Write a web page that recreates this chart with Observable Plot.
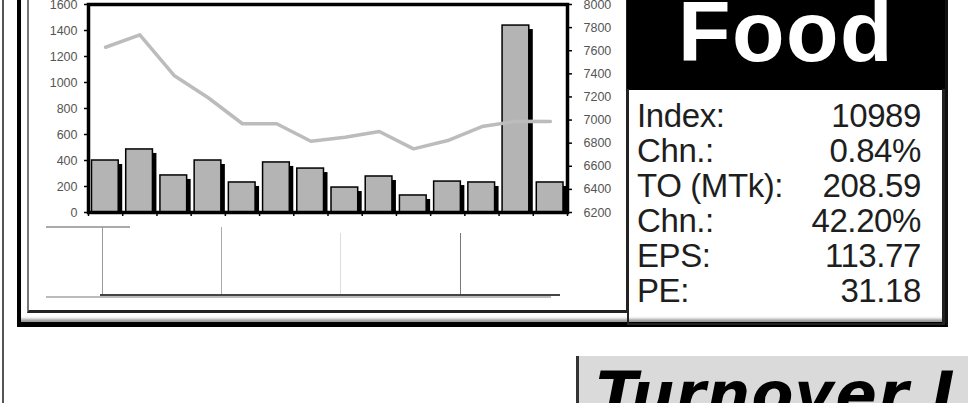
<!DOCTYPE html>
<html>
<head>
<meta charset="utf-8">
<script src="https://cdn.jsdelivr.net/npm/d3@7"></script>
<script src="https://cdn.jsdelivr.net/npm/@observablehq/plot@0.6"></script>
<style>
  html, body { margin:0; padding:0; background:#fff; }
  body { width:968px; height:403px; overflow:hidden; position:relative; font-family:"Liberation Sans", Arial, sans-serif; }
  .abs { position:absolute; box-sizing:border-box; }
  #chart { position:absolute; left:0; top:0; }
  #chart svg { overflow:visible; }
  .row { position:absolute; left:637px; width:284px; font-size:33px; color:#1e1e1e; line-height:35px; height:35px; letter-spacing:-0.4px; }
  .row .lab { position:absolute; left:0; }
  .row .val { position:absolute; right:0; }
</style>
</head>
<body>
<!-- page column rule -->
<div class="abs" style="left:2px; top:0; width:2px; height:403px; background:#555;"></div>
<!-- outer frame -->
<div class="abs" style="left:17px; top:-10px; width:931px; height:337px; border-left:4px solid #000; border-right:4px solid #111; border-bottom:5px solid #000; box-shadow: inset 0 -5px 3px -2px #999;"></div>
<!-- inner chart box -->
<div class="abs" style="left:27px; top:-10px; width:601px; height:323px; border-left:2px solid #777; border-right:2px solid #222; border-bottom:3px solid #222;"></div>
<!-- Food title box -->
<div class="abs" style="left:627px; top:-5px; width:318px; height:95px; background:#000;"></div>
<div class="abs" style="left:627px; top:-19px; width:318px; text-align:center; color:#fff; font-weight:bold; font-size:86px; line-height:100px; letter-spacing:1.5px;">Food</div>
<!-- stats box -->
<div class="abs" style="left:627px; top:89px; width:318px; height:236px; border-left:2px solid #222; border-right:3px solid #222; border-bottom:2px solid #222;"></div>
<div id="stats"></div>
<!-- broken date-label strip under the axis (scan residue) -->
<div class="abs" style="left:46px; top:226px; width:84px; height:2px; background:#aaa;"></div>
<div class="abs" style="left:102px; top:227px; width:1px; height:70px; background:#999;"></div>
<div class="abs" style="left:221px; top:227px; width:1px; height:70px; background:#aaa;"></div>
<div class="abs" style="left:340px; top:233px; width:1px; height:64px; background:#ddd;"></div>
<div class="abs" style="left:460px; top:233px; width:1px; height:64px; background:#777;"></div>
<div class="abs" style="left:46px; top:296px; width:505px; height:2px; background:#bbb;"></div>
<div class="abs" style="left:100px; top:294px; width:460px; height:2px; background:#444;"></div>
<!-- Turnover box -->
<div class="abs" style="left:576px; top:356px; width:392px; height:47px; background:#dadada; border-left:3px solid #333;"></div>
<div class="abs" style="left:596px; top:359px; white-space:nowrap; font-family:'DejaVu Sans'; font-weight:bold; font-style:italic; font-size:61px; line-height:70px; color:#000; letter-spacing:1.2px;">Turnover L</div>

<div id="chart"></div>
<script>
// ---- data ----
const periods   = ["1","2","3","4","5","6","7","8","9","10","11","12","13","14"];
const turnover  = [400, 485, 285, 400, 231, 385, 338, 192, 277, 131, 238, 231, 1438, 231];
const indexVals = [7630, 7738, 7386, 7193, 6968, 6968, 6817, 6852, 6901, 6751, 6823, 6944, 6990, 6988];
const leftTicks  = [0, 200, 400, 600, 800, 1000, 1200, 1400, 1600];
const rightTicks = [6200, 6400, 6600, 6800, 7000, 7200, 7400, 7600, 7800, 8000];
const statLabels = ["Index:", "Chn.:", "TO (MTk):", "Chn.:", "EPS:", "PE:"];
const statValues = ["10989", "0.84%", "208.59", "42.20%", "113.77", "31.18"];

// ---- stats panel ----
const stats = document.getElementById("stats");
statLabels.forEach((lab, i) => {
  const r = document.createElement("div");
  r.className = "row";
  r.style.top = (98 + i * 35) + "px";
  r.innerHTML = `<span class="lab">${lab}</span><span class="val">${statValues[i]}</span>`;
  stats.appendChild(r);
});

// ---- chart ----
const L0 = leftTicks[0], L1 = leftTicks[leftTicks.length - 1];
const R0 = rightTicks[0], R1 = rightTicks[rightTicks.length - 1];
const toLeft = v => (v - R0) / (R1 - R0) * (L1 - L0) + L0;
const toRight = v => Math.round((v - L0) / (L1 - L0) * (R1 - R0) + R0);

const data = periods.map((p, i) => ({i, p, to: turnover[i], idx: indexVals[i]}));

const chart = Plot.plot({
  width: 620,
  height: 230,
  marginLeft: 88,
  marginRight: 53,
  marginTop: 4,
  marginBottom: 18,
  x: {domain: [0, periods.length], axis: null, label: null},
  y: {domain: [L0, L1], axis: null, label: null},
  style: {background: "transparent", fontFamily: "'Liberation Sans', Arial, sans-serif", fontSize: "12.5px", color: "#000", overflow: "visible"},
  marks: [
    Plot.rectY(data, {x1: "i", x2: d => d.i + 1, y: "to", insetLeft: 3.5, insetRight: 4, fill: "#000", dx: 4, dy: 4, clip: true}),
    Plot.rectY(data, {x1: "i", x2: d => d.i + 1, y: "to", insetLeft: 3.5, insetRight: 4, fill: "#b4b4b4", stroke: "#000", strokeWidth: 1.5}),
    Plot.lineY(data, {x: d => d.i + 0.5, y: d => toLeft(d.idx), stroke: "#bcbcbc", strokeWidth: 3.5, strokeLinejoin: "round"}),
    Plot.frame({stroke: "#000", strokeWidth: 3.5}),
    Plot.axisY(leftTicks, {anchor: "left", label: null, tickSize: 4, tickPadding: 7, fill: "#555", stroke: "#000", strokeWidth: 1.5, tickFormat: d => String(d), letterSpacing: -0.8}),
    Plot.axisY(rightTicks.map(toLeft), {anchor: "right", label: null, tickSize: 4, tickPadding: 12, fill: "#555", stroke: "#000", strokeWidth: 1.5, tickFormat: d => String(toRight(d)), letterSpacing: -0.8}),
    Plot.axisX(d3.range(periods.length + 1), {anchor: "bottom", label: null, tickSize: 4, stroke: "#000", strokeWidth: 1.5, tickFormat: () => ""})
  ]
});
document.getElementById("chart").appendChild(chart);
</script>
</body>
</html>
